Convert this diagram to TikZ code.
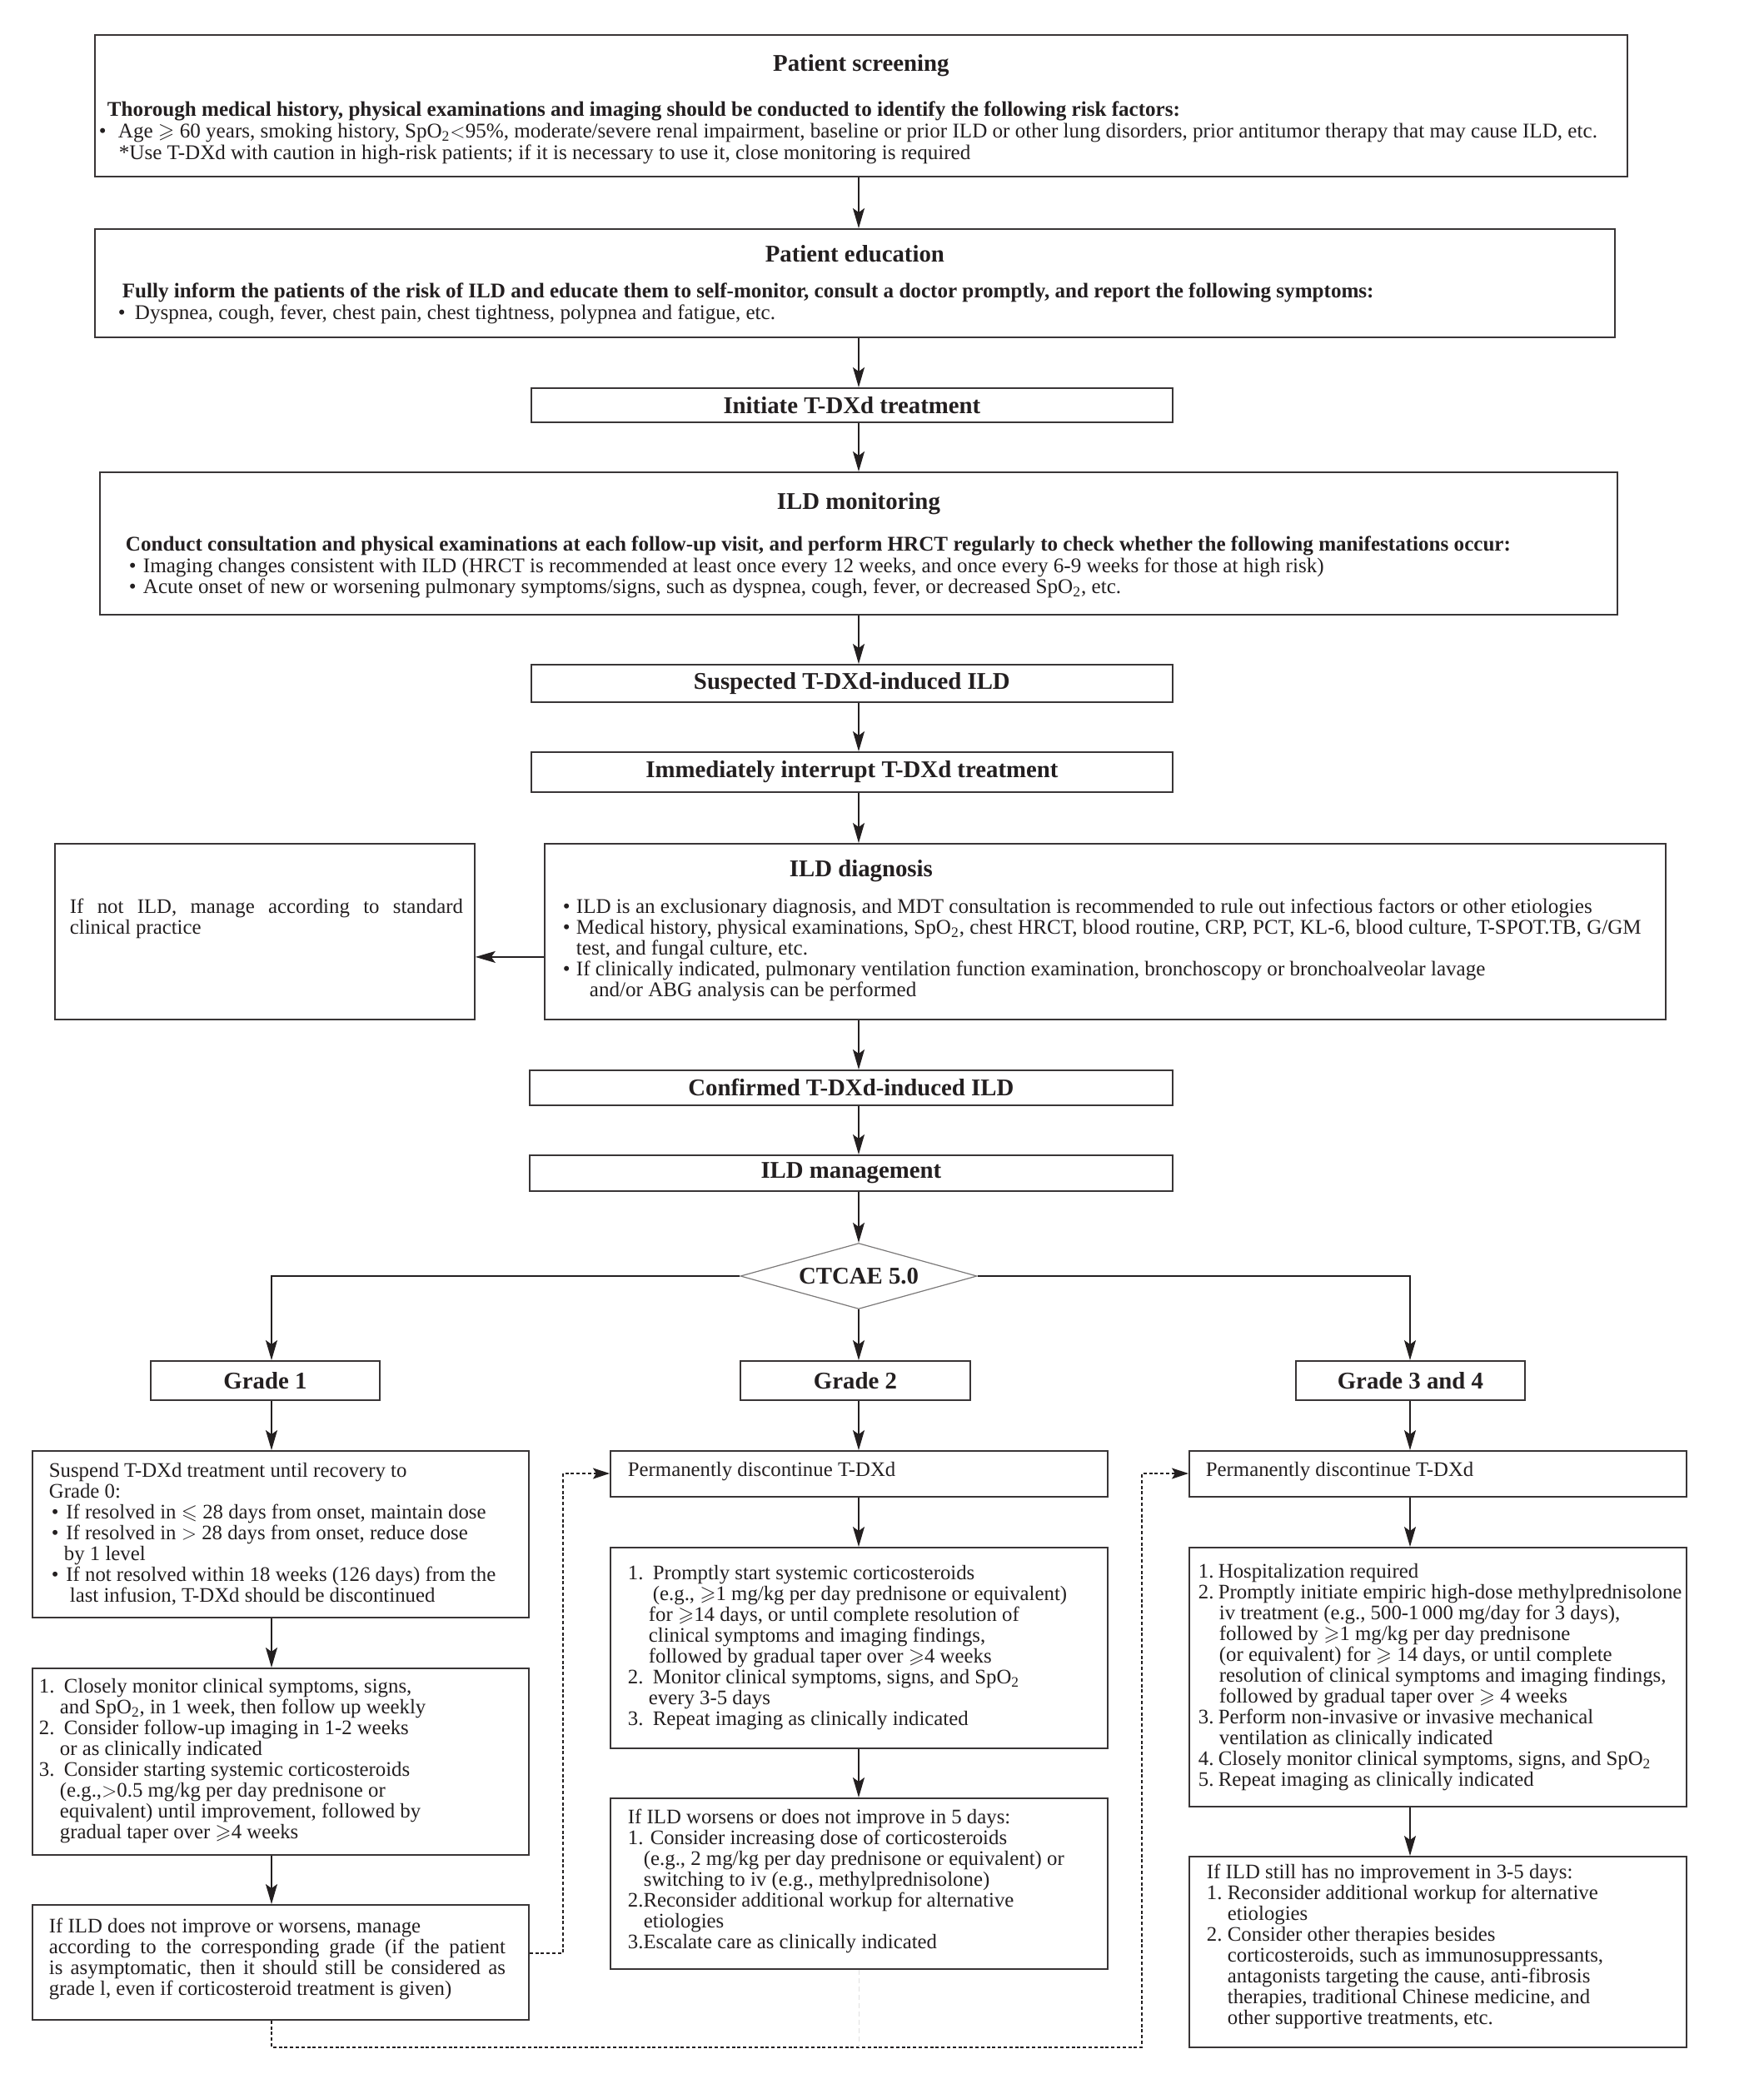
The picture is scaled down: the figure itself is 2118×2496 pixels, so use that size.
\documentclass[tikz,border=0pt]{standalone}
\usepackage{amssymb}
\usepackage{fontspec}
\setmainfont{Liberation Serif}
\usetikzlibrary{arrows.meta,shapes.geometric}
\definecolor{ink}{HTML}{231F20}
\newcommand\ttlf{\fontsize{14.4pt}{16pt}\selectfont\bfseries}
\newcommand\geqs{\ensuremath{\geqslant}}
\newcommand\leqs{\ensuremath{\leqslant}}
\newcommand\spo{SpO\textsubscript{2}}
\newcommand\ind[1]{\hspace*{#1}}
\newcommand\blt[1]{\makebox[#1][l]{\textbullet}}
\newcommand\num[2]{\makebox[#1][l]{#2}}
\newcommand\tbox[4][12.5pt]{\parbox[c][#3][t]{#2}{\raggedright\fontsize{12.4pt}{#1}\selectfont #4}}
\newcommand\tboxL[4][12.5pt]{\parbox[c][#3][t]{#2}{\raggedright\fontsize{12.55pt}{#1}\selectfont #4}}
\begin{document}
\begin{tikzpicture}[x=0.5pt,y=-0.5pt,
  bx/.style={draw=ink!90, line width=0.9pt, inner sep=0pt, anchor=north west, text=ink},
  hb/.style={draw=ink!90, line width=0.9pt, inner sep=0pt, anchor=north west, font=\ttlf, text=ink},
  dia/.style={diamond, draw=ink!60, line width=0.6pt, aspect=3.6, minimum width=142pt, minimum height=39.5pt, inner sep=0pt, font=\ttlf, text=ink},
  arr/.style={-{Stealth[length=12pt,width=7pt,inset=2.5pt]}, line width=0.75pt, draw=ink},
  dsh/.style={-{Stealth[length=10pt,width=6.5pt,inset=2pt]}, line width=0.7pt, draw=ink, dash pattern=on 2pt off 1.4pt},
  faint/.style={line width=0.5pt, draw=black!12, dash pattern=on 3pt off 2pt}]
\fill[white] (0,0) rectangle (2118,2496);
\useasboundingbox (0,0) rectangle (2118,2496);
\coordinate (axis) at (1031,0);
\coordinate (col1) at (326,0);
\coordinate (col3) at (1693,0);

% ---------- top flow ----------
\node[bx] (ps) at (113,41) {\tboxL[13pt]{920pt}{85pt}{%
\rule{0pt}{22pt}\makebox[920pt][c]{\ttlf Patient screening}\\[14pt]
\ind{7.5pt}\mbox{\bfseries Thorough medical history, physical examinations and imaging should be conducted to identify the following risk factors:}\\
\ind{2.5pt}\blt{11.5pt}\mbox{Age \geqs{} 60 years, smoking history, \spo\ensuremath{<}95\%, moderate/severe renal impairment, baseline or prior ILD or other lung disorders, prior antitumor therapy that may cause ILD, etc.}\\
\ind{14.5pt}\mbox{*Use T-DXd with caution in high-risk patients; if it is necessary to use it, close monitoring is required}}};

\node[bx] (pe) at (113,274) {\tboxL[13pt]{912.5pt}{65pt}{%
\rule{0pt}{20pt}\makebox[912.5pt][c]{\ttlf Patient education}\\[8.5pt]
\ind{16.5pt}\mbox{\bfseries Fully inform the patients of the risk of ILD and educate them to self-monitor, consult a doctor promptly, and report the following symptoms:}\\
\ind{14pt}\blt{10pt}\mbox{Dyspnea, cough, fever, chest pain, chest tightness, polypnea and fatigue, etc.}}};

\node[hb, minimum width=385pt, minimum height=20.5pt] (init) at (637,465) {Initiate T-DXd treatment};

\node[bx] (mon) at (119,566) {\tboxL[12.75pt]{911pt}{85.5pt}{%
\rule{0pt}{22.5pt}\makebox[911pt][c]{\ttlf ILD monitoring}\\[12.25pt]
\ind{15.5pt}\mbox{\bfseries Conduct consultation and physical examinations at each follow-up visit, and perform HRCT regularly to check whether the following manifestations occur:}\\
\ind{17.5pt}\blt{8.5pt}\mbox{Imaging changes consistent with ILD (HRCT is recommended at least once every 12 weeks, and once every 6-9 weeks for those at high risk)}\\
\ind{17.5pt}\blt{8.5pt}\mbox{Acute onset of new or worsening pulmonary symptoms/signs, such as dyspnea, cough, fever, or decreased \spo, etc.}}};

\node[hb, minimum width=385pt, minimum height=22.5pt] (sus) at (637,797) {Suspected T-DXd-induced ILD};
\node[hb, minimum width=385pt, minimum height=24pt] (imm) at (637,902) {Immediately interrupt T-DXd treatment};

\node[bx] (diag) at (653,1012) {\tboxL{673pt}{105.5pt}{%
\rule{0pt}{20pt}\makebox[380pt][c]{\ttlf ILD diagnosis}\\[9.5pt]
\ind{11pt}\blt{8pt}\mbox{ILD is an exclusionary diagnosis, and MDT consultation is recommended to rule out infectious factors or other etiologies}\\
\ind{11pt}\blt{8pt}\mbox{Medical history, physical examinations, \spo, chest HRCT, blood routine, CRP, PCT, KL-6, blood culture, T-SPOT.TB, G/GM}\\
\ind{19pt}\mbox{test, and fungal culture, etc.}\\
\ind{11pt}\blt{8pt}\mbox{If clinically indicated, pulmonary ventilation function examination, bronchoscopy or bronchoalveolar lavage}\\
\ind{27pt}\mbox{and/or ABG analysis can be performed}}};

\node[bx] (notild) at (65,1012) {\tbox{252pt}{105.5pt}{%
\rule{0pt}{42pt}\ind{9pt}\makebox[236pt][s]{If not ILD, manage according to standard}\\
\ind{9pt}\mbox{clinical practice}}};

\node[hb, minimum width=386pt, minimum height=21pt] (conf) at (635,1284) {Confirmed T-DXd-induced ILD};
\node[hb, minimum width=386pt, minimum height=21.5pt] (mgmt) at (635,1386) {ILD management};

\node[dia] (dia) at (1031,1532) {CTCAE 5.0};

\node[hb, minimum width=137.5pt, minimum height=23.5pt] (g1) at (180,1633) {Grade 1};
\node[hb, minimum width=138pt, minimum height=23.5pt] (g2) at (888,1633) {Grade 2};
\node[hb, minimum width=137.5pt, minimum height=23.5pt] (g3) at (1555,1633) {Grade 3 and 4};

% ---------- Grade 1 ----------
\node[bx] (g1a) at (38,1741) {\tbox{298pt}{100pt}{%
\rule{0pt}{16pt}\ind{10pt}\mbox{Suspend T-DXd treatment until recovery to}\\
\ind{10pt}\mbox{Grade 0:}\\
\ind{11.5pt}\blt{8.75pt}\mbox{If resolved in \leqs{} 28 days from onset, maintain dose}\\
\ind{11.5pt}\blt{8.75pt}\mbox{If resolved in \ensuremath{>} 28 days from onset, reduce dose}\\
\ind{19pt}\mbox{by 1 level}\\
\ind{11.5pt}\blt{8.75pt}\mbox{If not resolved within 18 weeks (126 days) from the}\\
\ind{22.5pt}\mbox{last infusion, T-DXd should be discontinued}}};

\node[bx] (g1b) at (38,2002) {\tbox{298pt}{112pt}{%
\rule{0pt}{15pt}\ind{4pt}\num{15pt}{1.}\mbox{Closely monitor clinical symptoms, signs,}\\
\ind{16.5pt}\mbox{and \spo, in 1 week, then follow up weekly}\\
\ind{4pt}\num{15pt}{2.}\mbox{Consider follow-up imaging in 1-2 weeks}\\
\ind{16.5pt}\mbox{or as clinically indicated}\\
\ind{4pt}\num{15pt}{3.}\mbox{Consider starting systemic corticosteroids}\\
\ind{16.5pt}\mbox{(e.g.,\ensuremath{>}0.5 mg/kg per day prednisone or}\\
\ind{16.5pt}\mbox{equivalent) until improvement, followed by}\\
\ind{16.5pt}\mbox{gradual taper over \geqs4 weeks}}};

\node[bx] (g1c) at (38,2286) {\tbox{298pt}{69pt}{%
\rule{0pt}{17pt}\ind{10pt}\mbox{If ILD does not improve or worsens, manage}\\
\ind{10pt}\makebox[274pt][s]{according to the corresponding grade (if the patient}\\
\ind{10pt}\makebox[274pt][s]{is asymptomatic, then it should still be considered as}\\
\ind{10pt}\mbox{grade l, even if corticosteroid treatment is given)}}};

% ---------- Grade 2 ----------
\node[bx] (g2a) at (732,1741) {\tbox{298.5pt}{27.5pt}{%
\rule{0pt}{15.5pt}\ind{10.5pt}\mbox{Permanently discontinue T-DXd}}};

\node[bx] (g2b) at (732,1857) {\tbox{298.5pt}{120.5pt}{%
\rule{0pt}{19.5pt}\ind{10.5pt}\num{15pt}{1.}\mbox{Promptly start systemic corticosteroids}\\
\ind{25.5pt}\mbox{(e.g., \geqs1 mg/kg per day prednisone or equivalent)}\\
\ind{23pt}\mbox{for \geqs14 days, or until complete resolution of}\\
\ind{23pt}\mbox{clinical symptoms and imaging findings,}\\
\ind{23pt}\mbox{followed by gradual taper over \geqs4 weeks}\\
\ind{10.5pt}\num{15pt}{2.}\mbox{Monitor clinical symptoms, signs, and \spo}\\
\ind{23pt}\mbox{every 3-5 days}\\
\ind{10.5pt}\num{15pt}{3.}\mbox{Repeat imaging as clinically indicated}}};

\node[bx] (g2c) at (732,2158) {\tbox{298.5pt}{102.5pt}{%
\rule{0pt}{15.5pt}\ind{10.5pt}\mbox{If ILD worsens or does not improve in 5 days:}\\
\ind{10.5pt}\mbox{1. Consider increasing dose of corticosteroids}\\
\ind{20pt}\mbox{(e.g., 2 mg/kg per day prednisone or equivalent) or}\\
\ind{20pt}\mbox{switching to iv (e.g., methylprednisolone)}\\
\ind{10.5pt}\mbox{2.Reconsider additional workup for alternative}\\
\ind{20pt}\mbox{etiologies}\\
\ind{10.5pt}\mbox{3.Escalate care as clinically indicated}}};

% ---------- Grade 3 and 4 ----------
\node[bx] (g3a) at (1427,1741) {\tbox{298.5pt}{27.5pt}{%
\rule{0pt}{15.5pt}\ind{10pt}\mbox{Permanently discontinue T-DXd}}};

\node[bx] (g3b) at (1427,1857) {\tbox{298.5pt}{155.5pt}{%
\rule{0pt}{18.5pt}\ind{5.5pt}\num{12pt}{1.}\mbox{Hospitalization required}\\
\ind{5.5pt}\num{12pt}{2.}\mbox{Promptly initiate empiric high-dose methylprednisolone}\\
\ind{18pt}\mbox{iv treatment (e.g., 500-1\,000 mg/day for 3 days),}\\
\ind{18pt}\mbox{followed by \geqs1 mg/kg per day prednisone}\\
\ind{18pt}\mbox{(or equivalent) for \geqs{} 14 days, or until complete}\\
\ind{18pt}\mbox{resolution of clinical symptoms and imaging findings,}\\
\ind{18pt}\mbox{followed by gradual taper over \geqs{} 4 weeks}\\
\ind{5.5pt}\num{12pt}{3.}\mbox{Perform non-invasive or invasive mechanical}\\
\ind{18pt}\mbox{ventilation as clinically indicated}\\
\ind{5.5pt}\num{12pt}{4.}\mbox{Closely monitor clinical symptoms, signs, and \spo}\\
\ind{5.5pt}\num{12pt}{5.}\mbox{Repeat imaging as clinically indicated}}};

\node[bx] (g3c) at (1427,2228) {\tbox{298.5pt}{114.5pt}{%
\rule{0pt}{13.5pt}\ind{10.5pt}\mbox{If ILD still has no improvement in 3-5 days:}\\
\ind{10.5pt}\num{12.5pt}{1.}\mbox{Reconsider additional workup for alternative}\\
\ind{23pt}\mbox{etiologies}\\
\ind{10.5pt}\num{12.5pt}{2.}\mbox{Consider other therapies besides}\\
\ind{23pt}\mbox{corticosteroids, such as immunosuppressants,}\\
\ind{23pt}\mbox{antagonists targeting the cause, anti-fibrosis}\\
\ind{23pt}\mbox{therapies, traditional Chinese medicine, and}\\
\ind{23pt}\mbox{other supportive treatments, etc.}}};

% ---------- connectors ----------
\draw[arr] (ps.south -| axis) -- (pe.north -| axis);
\draw[arr] (pe.south -| axis) -- (init.north -| axis);
\draw[arr] (init.south -| axis) -- (mon.north -| axis);
\draw[arr] (mon.south -| axis) -- (sus.north -| axis);
\draw[arr] (sus.south -| axis) -- (imm.north -| axis);
\draw[arr] (imm.south -| axis) -- (diag.north -| axis);
\draw[arr] ([yshift=-15.25pt]diag.west) -- ([yshift=-15.25pt]notild.east);
\draw[arr] (diag.south -| axis) -- (conf.north -| axis);
\draw[arr] (conf.south -| axis) -- (mgmt.north -| axis);
\draw[arr] (mgmt.south -| axis) -- (dia.north);
\draw[arr] (dia.south) -- (dia.south |- g2.north);
\draw[arr] (dia.west) -| (col1 |- g1.north);
\draw[arr] (dia.east) -| (col3 |- g3.north);

\draw[arr] (col1 |- g1.south) -- (col1 |- g1a.north);
\draw[arr] (col1 |- g1a.south) -- (col1 |- g1b.north);
\draw[arr] (col1 |- g1b.south) -- (col1 |- g1c.north);

\draw[arr] (axis |- g2.south) -- (axis |- g2a.north);
\draw[arr] (axis |- g2a.south) -- (axis |- g2b.north);
\draw[arr] (axis |- g2b.south) -- (axis |- g2c.north);

\draw[arr] (col3 |- g3.south) -- (col3 |- g3a.north);
\draw[arr] (col3 |- g3a.south) -- (col3 |- g3b.north);
\draw[arr] (col3 |- g3b.south) -- (col3 |- g3c.north);

\coordinate (jA) at (676,2345);
\coordinate (jB) at (676,1769);
\coordinate (jC) at (326,2458);
\coordinate (jD) at (1371,2458);
\coordinate (jE) at (1371,1769);
\draw[dsh] (g1c.east |- jA) -- (jA) -- (jB) -- (g2a.west |- jB);
\draw[dsh] (g1c.south -| jC) -- (jC) -- (jD) -- (jE) -- (g3a.west |- jE);
\draw[faint] (g2c.south -| axis) -- (axis |- jD);
\end{tikzpicture}
\end{document}
